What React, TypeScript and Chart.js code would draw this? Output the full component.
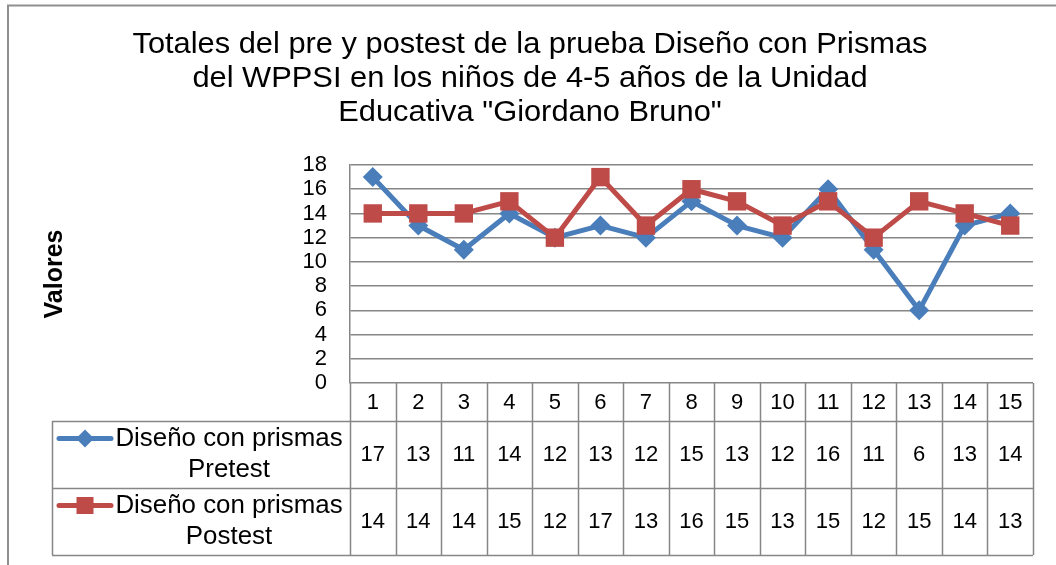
import React, { useEffect, useRef } from "react";
import { Chart, registerables } from "chart.js";

Chart.register(...registerables);

const categories = ["1", "2", "3", "4", "5", "6", "7", "8", "9", "10", "11", "12", "13", "14", "15"];
const pretest = [17, 13, 11, 14, 12, 13, 12, 15, 13, 12, 16, 11, 6, 13, 14];
const postest = [14, 14, 14, 15, 12, 17, 13, 16, 15, 13, 15, 12, 15, 14, 13];
const pretestLabel = ["Diseño con prismas", "Pretest"];
const postestLabel = ["Diseño con prismas", "Postest"];
const titleLines = [
  "Totales del pre y postest de la prueba Diseño con Prismas",
  "del WPPSI en los niños de 4-5 años de la Unidad",
  'Educativa "Giordano Bruno"',
];
const yAxisTitle = "Valores";
const yMin = 0;
const yMax = 18;
const yStep = 2;

const FONT = "'Liberation Sans', Arial, sans-serif";
const BLUE = "#4A7EBB";
const RED = "#BE4B48";
const GRID = "#868686";

function stretchedText(ctx: CanvasRenderingContext2D, text: string, x: number, y: number, sx: number) {
  ctx.save();
  ctx.translate(x, y);
  ctx.scale(sx, 1);
  ctx.fillText(text, 0, 0);
  ctx.restore();
}

const decorPlugin = {
  id: "decor",
  afterDraw(chart: any) {
    const ctx = chart.ctx as CanvasRenderingContext2D;
    const area = chart.chartArea;
    const xs = chart.scales.x;
    ctx.save();

    // outer frame
    ctx.strokeStyle = "#8f8f8f";
    ctx.lineWidth = 2;
    ctx.beginPath();
    ctx.moveTo(8, 565);
    ctx.lineTo(8, 5.5);
    ctx.lineTo(1056, 5.5);
    ctx.stroke();

    // title
    ctx.fillStyle = "#000";
    ctx.font = `29px ${FONT}`;
    ctx.textAlign = "center";
    ctx.textBaseline = "alphabetic";
    titleLines.forEach((t, i) => stretchedText(ctx, t, 530, 53 + i * 34, 1.063));

    // y axis title
    ctx.save();
    ctx.translate(55, 274);
    ctx.rotate(-Math.PI / 2);
    ctx.font = `bold 25px ${FONT}`;
    ctx.textAlign = "center";
    ctx.textBaseline = "middle";
    ctx.fillText(yAxisTitle, 0, 0);
    ctx.restore();

    // data table
    const step = xs.getPixelForValue(1) - xs.getPixelForValue(0);
    const top = area.bottom;
    const headerBottom = top + 38;
    const row1Bottom = headerBottom + 67;
    const row2Bottom = row1Bottom + 67;
    const tableLeft = 52;
    ctx.strokeStyle = GRID;
    ctx.lineWidth = 1.5;
    ctx.beginPath();
    for (let i = 0; i <= categories.length; i++) {
      const bx = Math.round(xs.getPixelForValue(0) - step / 2 + i * step) + 0.5;
      ctx.moveTo(bx, top);
      ctx.lineTo(bx, row2Bottom);
    }
    [headerBottom, row1Bottom, row2Bottom].forEach((y) => {
      ctx.moveTo(tableLeft, Math.round(y) + 0.5);
      ctx.lineTo(area.right, Math.round(y) + 0.5);
    });
    ctx.moveTo(tableLeft + 0.5, headerBottom);
    ctx.lineTo(tableLeft + 0.5, row2Bottom);
    ctx.stroke();

    ctx.fillStyle = "#000";
    ctx.font = `22px ${FONT}`;
    ctx.textAlign = "center";
    ctx.textBaseline = "middle";
    categories.forEach((c, i) => {
      const cx = xs.getPixelForValue(i);
      ctx.fillText(c, cx, (top + headerBottom) / 2 + 1);
      ctx.fillText(String(pretest[i]), cx, (headerBottom + row1Bottom) / 2);
      ctx.fillText(String(postest[i]), cx, (row1Bottom + row2Bottom) / 2);
    });

    // legend keys
    const rows = [
      { y0: headerBottom, color: BLUE, label: pretestLabel, style: "diamond" },
      { y0: row1Bottom, color: RED, label: postestLabel, style: "square" },
    ];
    rows.forEach((r) => {
      const ly = r.y0 + 17.5;
      ctx.strokeStyle = r.color;
      ctx.lineWidth = 5;
      ctx.lineCap = "round";
      ctx.beginPath();
      ctx.moveTo(59, ly);
      ctx.lineTo(111, ly);
      ctx.stroke();
      ctx.fillStyle = r.color;
      ctx.beginPath();
      if (r.style === "diamond") {
        ctx.moveTo(85, ly - 9);
        ctx.lineTo(94, ly);
        ctx.lineTo(85, ly + 9);
        ctx.lineTo(76, ly);
        ctx.closePath();
      } else {
        ctx.rect(76.5, ly - 8.5, 17, 17);
      }
      ctx.fill();
      ctx.fillStyle = "#000";
      ctx.font = `25px ${FONT}`;
      ctx.textAlign = "center";
      ctx.textBaseline = "alphabetic";
      stretchedText(ctx, r.label[0], 229, r.y0 + 25, 1.035);
      stretchedText(ctx, r.label[1], 229, r.y0 + 55.5, 1.035);
    });

    ctx.restore();
  },
};

export default function App() {
  const ref = useRef<HTMLCanvasElement>(null);
  useEffect(() => {
    if (!ref.current) return;
    Chart.defaults.font.family = FONT;
    const chart = new Chart(ref.current, {
      type: "line",
      data: {
        labels: categories,
        datasets: [
          {
            label: pretestLabel.join(" "),
            data: pretest,
            borderColor: BLUE,
            backgroundColor: BLUE,
            borderWidth: 5,
            pointStyle: "rectRot",
            pointRadius: 10,
            pointHoverRadius: 10,
            pointBorderWidth: 0,
            pointBackgroundColor: BLUE,
            tension: 0,
            borderJoinStyle: "round",
            order: 1,
          },
          {
            label: postestLabel.join(" "),
            data: postest,
            borderColor: RED,
            backgroundColor: RED,
            borderWidth: 5,
            pointStyle: "rect",
            pointRadius: 13,
            pointHoverRadius: 13,
            pointBorderWidth: 0,
            pointBackgroundColor: RED,
            tension: 0,
            borderJoinStyle: "round",
            order: 0,
          },
        ],
      },
      options: {
        responsive: false,
        animation: false,
        layout: { padding: { left: 0, right: 23, top: 165, bottom: 182 } },
        plugins: { legend: { display: false }, title: { display: false }, tooltip: { enabled: false } },
        scales: {
          x: { display: false, offset: true },
          y: {
            min: yMin,
            max: yMax,
            afterFit: (s: any) => {
              s.width = 350;
            },
            ticks: {
              stepSize: yStep,
              autoSkip: false,
              padding: 23,
              color: "#000",
              font: { size: 22, family: FONT, lineHeight: 1 },
            },
            grid: { color: GRID, lineWidth: 1.5, drawTicks: false },
            border: { display: true, color: GRID, width: 1.5 },
          },
        },
      },
      plugins: [decorPlugin],
    });
    return () => chart.destroy();
  }, []);
  return (
    <div style={{ position: "absolute", left: 0, top: 0, width: 1056, height: 565 }}>
      <canvas ref={ref} width={1056} height={565} />
    </div>
  );
}
